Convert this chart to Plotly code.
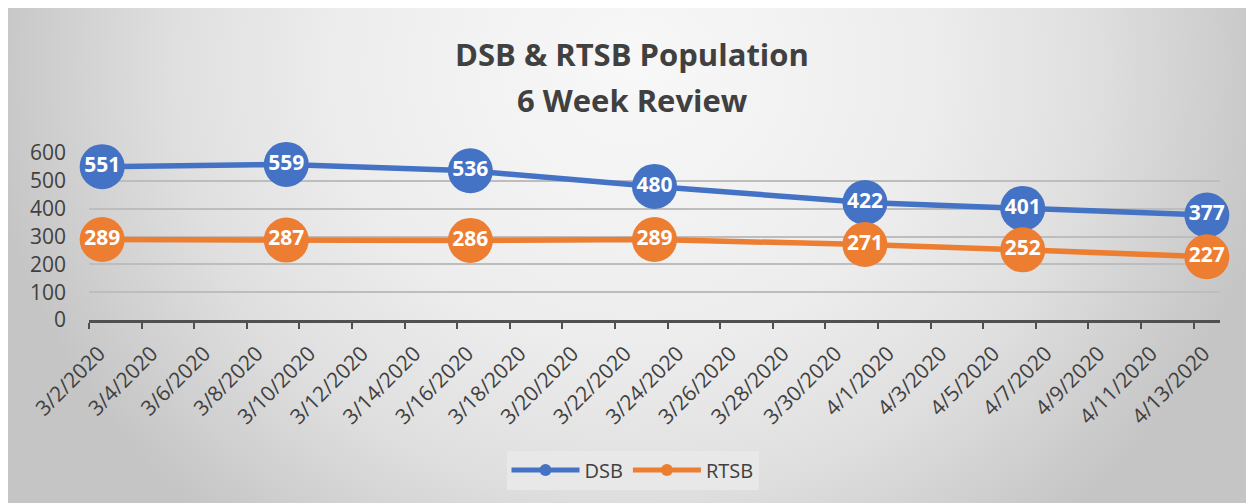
import base64
import plotly.graph_objects as go

# ---- data ----
dates = ["2020-03-02", "2020-03-09", "2020-03-16", "2020-03-23",
         "2020-03-31", "2020-04-06", "2020-04-13"]
dsb = [551, 559, 536, 480, 422, 401, 377]
rtsb = [289, 287, 286, 289, 271, 252, 227]
series_names = ["DSB", "RTSB"]
title_lines = ["DSB & RTSB Population", "6 Week Review"]

BLUE = "#4472C4"
ORANGE = "#ED7D31"
TXT = "#404040"
FONT = "Open Sans"

# figure sits inside the page's 8px body margin
W, H = 1246, 495
ML, MR, MT, MB = 81, 34, 145, 183
PW, PH = W - ML - MR, H - MT - MB

# background gradient (Excel-like radial gray)
svg = f"""<svg xmlns='http://www.w3.org/2000/svg' width='{W}' height='{H}' viewBox='0 0 {W} {H}'>
<defs><radialGradient id='g' gradientUnits='userSpaceOnUse' cx='625' cy='60' r='650'
 gradientTransform='translate(625 60) scale(1 0.92) translate(-625 -60)'>
<stop offset='0' stop-color='#f8f8f8'/><stop offset='0.45' stop-color='#ededed'/>
<stop offset='0.7' stop-color='#e0e0e0'/><stop offset='1' stop-color='#c5c5c5'/>
</radialGradient></defs><rect width='{W}' height='{H}' fill='url(#g)'/></svg>"""
bg_uri = "data:image/svg+xml;base64," + base64.b64encode(svg.encode()).decode()

def py(px_from_top):
    """figure pixel (from top) -> paper y"""
    return (MT + PH - px_from_top) / PH

def px(px_from_left):
    return (px_from_left - ML) / PW

fig = go.Figure()
for name, vals, col in [(series_names[0], dsb, BLUE), (series_names[1], rtsb, ORANGE)]:
    fig.add_trace(go.Scatter(
        x=dates, y=vals, name=name,
        xperiod=86400000, xperiodalignment="middle",
        mode="lines+markers+text",
        line=dict(color=col, width=5.5),
        marker=dict(color=col, size=45),
        text=[str(v) for v in vals],
        textposition="middle center",
        textfont=dict(family=FONT, size=21, color="white", weight="bold"),
        cliponaxis=False,
    ))

fig.update_layout(
    width=W, height=H,
    margin=dict(l=ML, r=MR, t=MT, b=MB, pad=0),
    paper_bgcolor="#dcdcdc",
    plot_bgcolor="rgba(0,0,0,0)",
    font=dict(family=FONT, color=TXT),
    showlegend=True,
    legend=dict(
        orientation="h", x=px(624.5), xanchor="center",
        y=py(462), yanchor="middle",
        bgcolor="#e8e8e8", font=dict(size=20, color=TXT),
        itemwidth=68, itemsizing="constant",
    ),
    images=[dict(
        source=bg_uri, xref="paper", yref="paper",
        x=px(0), y=py(0),
        sizex=W / PW, sizey=H / PH,
        xanchor="left", yanchor="top", sizing="stretch", layer="below",
    )],
    annotations=[
        dict(text=title_lines[0], xref="paper", yref="paper",
             x=px(624), y=py(46), xanchor="center", yanchor="middle",
             showarrow=False, font=dict(family=FONT, size=31, color=TXT, weight="bold")),
        dict(text=title_lines[1], xref="paper", yref="paper",
             x=px(624), y=py(92), xanchor="center", yanchor="middle",
             showarrow=False, font=dict(family=FONT, size=31, color=TXT, weight="bold")),
    ],
)

fig.update_xaxes(
    type="date",
    range=["2020-03-02", "2020-04-14"],
    tick0="2020-03-02", dtick=2 * 86400000,
    tickformat="%-m/%-d/%Y", tickangle=-45,
    tickfont=dict(size=21, color=TXT),
    showgrid=False, zeroline=False,
    showline=True, linecolor="#505050", linewidth=3,
    ticks="outside", ticklen=6, tickwidth=2, tickcolor="#505050",
    ticklabelshift=10, ticklabelstandoff=4,
)
fig.update_yaxes(
    range=[0, 600], dtick=100,
    tickfont=dict(size=21, color=TXT),
    showgrid=True, gridcolor="#bdbdbd", gridwidth=1.5,
    zeroline=False, showline=False,
    ticklabelstandoff=22,
)

fig.write_html("out.html")
